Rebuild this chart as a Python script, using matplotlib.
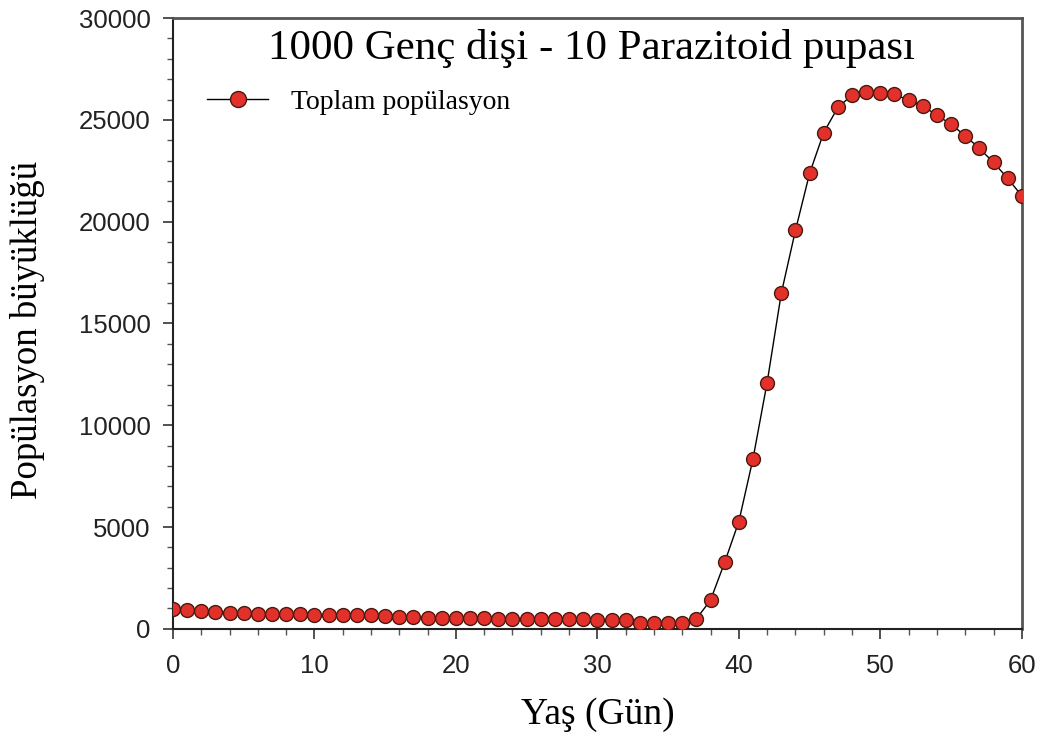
import matplotlib
matplotlib.use("Agg")
import matplotlib.pyplot as plt
from matplotlib.ticker import MultipleLocator

days = list(range(0, 61))
population = [
    970, 935, 900, 840, 800, 770, 740, 735, 735, 730,
    690, 690, 690, 685, 680, 640, 575, 560, 550, 540,
    530, 520, 510, 500, 500, 490, 490, 480, 480, 470,
    450, 445, 440, 300, 285, 285, 290, 490, 1410, 3270,
    5270, 8350, 12100, 16480, 19570, 22370, 24380, 25610, 26220, 26380,
    26330, 26250, 25970, 25680, 25230, 24780, 24220, 23600, 22910, 22130,
    21270,
]
title_text = "1000 Genç dişi - 10 Parazitoid pupası"
legend_label = "Toplam popülasyon"
xlabel_text = "Yaş (Gün)"
ylabel_text = "Popülasyon büyüklüğü"
x_ticks = [0, 10, 20, 30, 40, 50, 60]
y_ticks = [0, 5000, 10000, 15000, 20000, 25000, 30000]

serif = ["Liberation Serif", "DejaVu Serif"]
sans = ["Liberation Sans", "DejaVu Sans"]

fig = plt.figure(figsize=(10.48, 7.54), dpi=100)
ax = fig.add_axes([0.165, 0.166, 0.810, 0.810])

ax.plot(days, population, color="black", linewidth=1.0, marker="o",
        markersize=10, markerfacecolor="#e2302b", markeredgecolor="#4a1a10",
        markeredgewidth=1.0, label=legend_label, zorder=3)

ax.set_xlim(0, 60)
ax.set_ylim(0, 30000)
ax.set_xticks(x_ticks)
ax.set_yticks(y_ticks)
ax.xaxis.set_minor_locator(MultipleLocator(2))
ax.yaxis.set_minor_locator(MultipleLocator(1000))
ax.tick_params(which="major", direction="out", length=7, width=1.2,
               labelsize=18.5, color="#333333")
ax.tick_params(which="minor", direction="out", length=4, width=1.0, color="#555555")
ax.tick_params(axis="y", which="major", pad=9)
ax.tick_params(axis="x", which="major", pad=11)
for lab in ax.get_xticklabels() + ax.get_yticklabels():
    lab.set_family(sans)
    lab.set_color("#222222")

for side in ["left", "bottom"]:
    ax.spines[side].set_color("#222222")
    ax.spines[side].set_linewidth(1.5)
for side in ["top", "right"]:
    ax.spines[side].set_color("#555555")
    ax.spines[side].set_linewidth(2.0)

ax.text(0.493, 0.950, title_text, transform=ax.transAxes, ha="center",
        va="center", fontsize=31, family=serif)

ax.set_xlabel(xlabel_text, fontsize=27, family=serif, labelpad=14)
ax.set_ylabel(ylabel_text, fontsize=26.5, family=serif)
ax.yaxis.set_label_coords(-0.151, 0.49)

leg = ax.legend(loc="upper left", bbox_to_anchor=(0.011, 0.924), frameon=False,
                handlelength=2.2, handletextpad=0.8, markerscale=1.15,
                prop={"family": serif, "size": 20})

fig.savefig("out.png", dpi=100)
